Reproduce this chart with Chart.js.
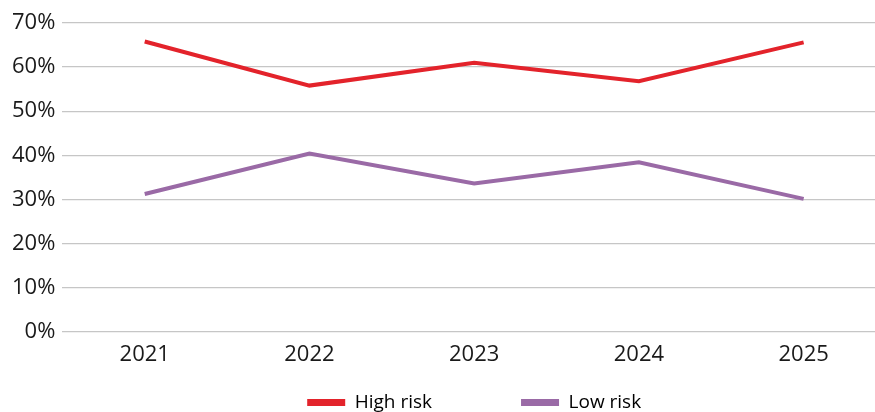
<!DOCTYPE html>
<html>
<head>
<meta charset="utf-8">
<script src="https://cdn.jsdelivr.net/npm/chart.js@4/dist/chart.umd.min.js"></script>
<style>
  html, body { margin: 0; padding: 0; background: #fff; overflow: hidden; }
  .wrap { width: 886px; height: 412px; }
</style>
</head>
<body>
<div class="wrap"><canvas id="chart"></canvas></div>
<script>
    // data
    let years = ["2021", "2022", "2023", "2024", "2025"],
        highRisk = [65.8, 55.8, 61, 56.8, 65.6],
        lowRisk = [31.2, 40.4, 33.6, 38.4, 30.1],
        yTicks = [0, 10, 20, 30, 40, 50, 60, 70];

    let ctx = document.getElementById("chart");
    Chart.defaults.font.family = "'Open Sans', 'Noto Sans', sans-serif";
    Chart.defaults.color = "#1a1a1a";

    // legend box a bit shorter than chart.js wants, so the items sit low
    let legendHeight = {
        id: "legendHeight",
        beforeInit: function (chart) {
            let origFit = chart.legend.fit;
            chart.legend.fit = function () {
                origFit.bind(chart.legend)();
                this.height = 34;
            };
        }
    };

    let myLineChart = new Chart(ctx, {
        type: "line",
        data: {
            labels: years,
            datasets: [
                {
                    label: "High risk",
                    data: highRisk,
                    borderColor: "#e3232b",
                    backgroundColor: "#e3232b",
                    borderWidth: 4,
                    pointRadius: 0,
                    tension: 0,
                    fill: false
                },
                {
                    label: "Low risk",
                    data: lowRisk,
                    borderColor: "#9a6aa6",
                    backgroundColor: "#9a6aa6",
                    borderWidth: 4,
                    pointRadius: 0,
                    tension: 0,
                    fill: false
                }
            ]
        },
        options: {
            responsive: true,
            maintainAspectRatio: false,
            animation: false,
            layout: { padding: { top: 23, left: 5, right: 0, bottom: 0 } },
            plugins: {
                tooltip: { enabled: false },
                legend: {
                    position: "bottom",
                    fullSize: false,
                    labels: {
                        boxWidth: 38,
                        boxHeight: 7,
                        padding: 15,
                        font: { size: 19 },
                        generateLabels: function (chart) {
                            return chart.data.datasets.map(function (ds, i) {
                                // trailing spaces widen the gap to the next item
                                let txt = i == 0 ? ds.label + "\u00a0".repeat(15) : ds.label;
                                return {
                                    text: txt,
                                    fillStyle: ds.borderColor,
                                    strokeStyle: ds.borderColor,
                                    lineWidth: 0,
                                    datasetIndex: i
                                };
                            });
                        }
                    }
                }
            },
            scales: {
                x: {
                    offset: true,
                    grid: { display: false, drawTicks: false },
                    border: { display: false },
                    ticks: { font: { size: 22 }, padding: 10 }
                },
                y: {
                    min: 0,
                    max: 70,
                    afterBuildTicks: function (axis) {
                        axis.ticks = yTicks.map(function (v) { return { value: v }; });
                    },
                    grid: { color: "#c6c6c6", lineWidth: 1.2, drawTicks: false },
                    border: { display: false },
                    ticks: {
                        font: { size: 22 },
                        padding: 7,
                        callback: function (v) { return v + "%"; }
                    }
                }
            }
        },
        plugins: [legendHeight]
    });
</script>
</body>
</html>
